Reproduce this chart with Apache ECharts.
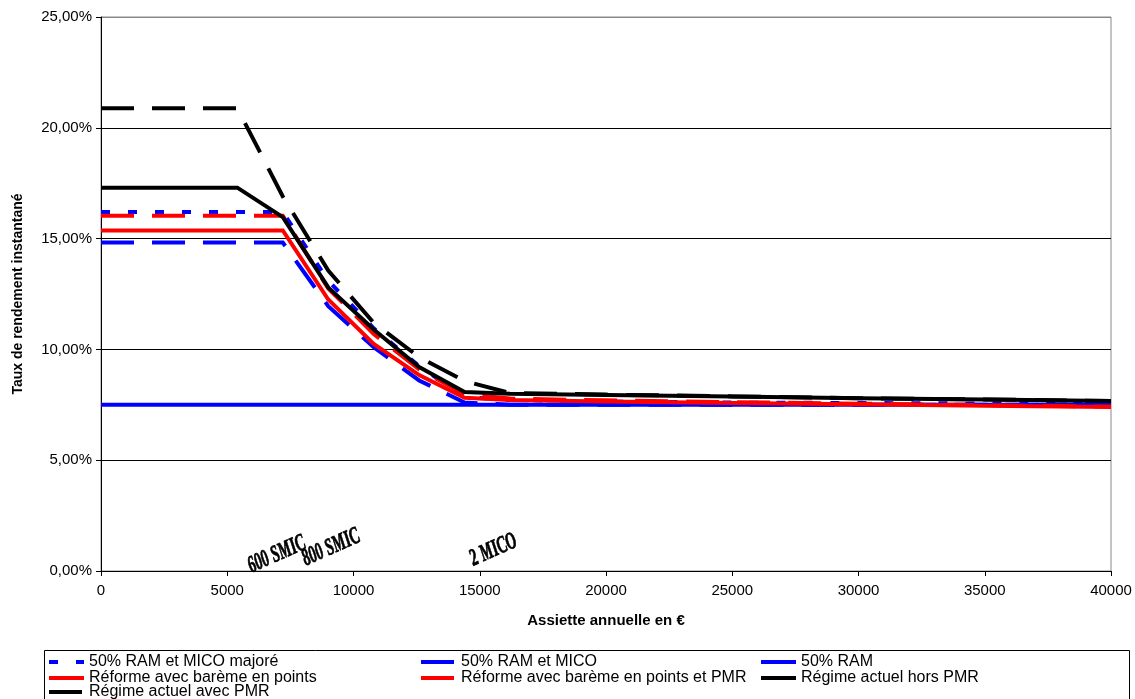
<!DOCTYPE html>
<html>
<head>
<meta charset="utf-8">
<script src="https://cdn.jsdelivr.net/npm/echarts@6/dist/echarts.min.js"></script>
<style>
  html, body { margin: 0; padding: 0; background: #fff; }
  #chart { width: 1135px; height: 699px; }
</style>
</head>
<body>
<div id="chart"></div>
<script>
// Annual contribution base (€) at which each schedule is evaluated
const assiette = [0, 5400, 7200, 9000, 10800, 12600, 14400, 16200, 20000, 25000, 30000, 35000, 40000];

// Instantaneous rate of return, in %
const ramMicoMajore   = [16.2, 16.2, 16.2, 13.1, 10.95, 9.25, 7.85, 7.72, 7.65, 7.6, 7.58, 7.56, 7.55];
const ramMico         = [14.82, 14.82, 14.82, 11.95, 10.1, 8.6, 7.6, 7.5, 7.5, 7.5, 7.5, 7.5, 7.5];
const ram             = [7.5, 7.5, 7.5, 7.5, 7.5, 7.5, 7.5, 7.5, 7.5, 7.5, 7.5, 7.5, 7.5];
const reformePoints   = [15.37, 15.37, 15.37, 12.25, 10.25, 8.84, 7.82, 7.72, 7.65, 7.58, 7.52, 7.46, 7.4];
const reformePmr      = [16.03, 16.03, 16.03, 12.75, 10.7, 9.1, 7.98, 7.78, 7.7, 7.62, 7.55, 7.48, 7.42];
const actuelHorsPmr   = [17.3, 17.3, 15.97, 12.8, 10.9, 9.2, 8.08, 8.0, 7.94, 7.87, 7.8, 7.74, 7.67];
const actuelAvecPmr   = [20.88, 20.88, 16.9, 13.56, 11.2, 9.65, 8.57, 8.03, 7.96, 7.88, 7.8, 7.74, 7.67];

const seriesNames = [
  '50% RAM et MICO majoré',
  '50% RAM et MICO',
  '50% RAM',
  'Réforme avec barème en points',
  'Réforme avec barème en points et PMR',
  'Régime actuel hors PMR',
  'Régime actuel avec PMR'
];

// Reference thresholds written along the x axis
const noteLabels = ['600 SMIC', '800 SMIC', '2 MICO'];
const noteAssiette = [6050, 8200, 14850];

const xTicks = { min: 0, max: 40000, interval: 5000 };
const yTicks = { min: 0, max: 25, interval: 5 };

function pairs(ys) { return assiette.map((x, i) => [x, ys[i]]); }

const styles = [
  { color: '#0000ff', type: [9, 18] },
  { color: '#0000ff', type: [33, 18] },
  { color: '#0000ff', type: 'solid' },
  { color: '#ff0000', type: 'solid' },
  { color: '#ff0000', type: [33, 18] },
  { color: '#000000', type: 'solid' },
  { color: '#000000', type: [33, 18] }
];
const values = [ramMicoMajore, ramMico, ram, reformePoints, reformePmr, actuelHorsPmr, actuelAvecPmr];

const chart = echarts.init(document.getElementById('chart'), null, { renderer: 'canvas' });

const legendText = { fontFamily: 'Liberation Sans', fontSize: 16, color: '#000', lineHeight: 15 };
function legendBlock(left, top, names) {
  return {
    orient: 'vertical', left: left, top: top, padding: 0, itemGap: 0,
    itemWidth: 35, itemHeight: 14, selectedMode: false,
    itemStyle: { opacity: 0 },
    lineStyle: { width: 4 },
    textStyle: legendText, data: names
  };
}

chart.setOption({
  animation: false,
  backgroundColor: '#fff',
  grid: { left: 101, right: 24, top: 17, bottom: 128, show: true, borderColor: '#888', borderWidth: 1 },
  xAxis: {
    type: 'value', min: xTicks.min, max: xTicks.max, interval: xTicks.interval,
    name: 'Assiette annuelle en €', nameLocation: 'middle', nameGap: 42,
    nameTextStyle: { fontFamily: 'Liberation Sans', fontWeight: 'bold', fontSize: 15, color: '#000' },
    axisLine: { lineStyle: { color: '#000', width: 1 } },
    axisTick: { show: true, length: 5, lineStyle: { color: '#000' } },
    axisLabel: { fontFamily: 'Liberation Sans', fontSize: 15, color: '#000', margin: 12, formatter: v => String(v) },
    splitLine: { show: false }
  },
  yAxis: {
    type: 'value', min: yTicks.min, max: yTicks.max, interval: yTicks.interval,
    name: 'Taux de rendement instantané', nameLocation: 'middle', nameGap: 76,
    nameTextStyle: { fontFamily: 'Liberation Sans', fontWeight: 'bold', fontSize: 14, color: '#000' },
    axisLine: { show: true, lineStyle: { color: '#000', width: 1 } },
    axisTick: { show: true, length: 5, lineStyle: { color: '#000' } },
    axisLabel: {
      fontFamily: 'Liberation Sans', fontSize: 15, color: '#000', margin: 9,
      formatter: v => v.toFixed(2).replace('.', ',') + '%'
    },
    splitLine: { show: true, lineStyle: { color: ['#000', '#000', '#000', '#000', '#000', '#888'], width: 1 } }
  },
  legend: [
    legendBlock(47, 654, [seriesNames[0], seriesNames[3]]),
    legendBlock(47, 684, [seriesNames[6]]),
    legendBlock(419, 654, [seriesNames[1], seriesNames[4]]),
    legendBlock(759, 654, [seriesNames[2], seriesNames[5]])
  ],
  series: seriesNames.map((name, i) => ({
    name: name,
    type: 'line',
    symbol: 'none',
    showSymbol: false,
    data: pairs(values[i]),
    itemStyle: { color: styles[i].color },
    lineStyle: { color: styles[i].color, width: 4, type: styles[i].type, cap: 'butt', join: 'miter' }
  }))
});

// Legend frame and threshold annotations
const graphics = [{
  type: 'rect', silent: true,
  shape: { x: 44.5, y: 650.5, width: 1085, height: 60 },
  style: { fill: 'none', stroke: '#000', lineWidth: 1 }
}];
const noteDy = [7, 0, 0];
noteLabels.forEach((t, i) => {
  const p = chart.convertToPixel({ xAxisIndex: 0, yAxisIndex: 0 }, [noteAssiette[i], 0]);
  graphics.push({
    type: 'text', silent: true,
    x: p[0], y: p[1] + noteDy[i],
    rotation: 24 * Math.PI / 180,
    scaleX: 0.6,
    style: {
      text: t, fill: '#000', stroke: '#000', lineWidth: 0.8,
      fontStyle: 'italic', fontWeight: 'bold', fontSize: 24, fontFamily: 'Liberation Serif',
      align: 'left', verticalAlign: 'bottom',
      textAlign: 'left', textVerticalAlign: 'bottom'
    }
  });
});
chart.setOption({ graphic: graphics });
</script>
</body>
</html>
